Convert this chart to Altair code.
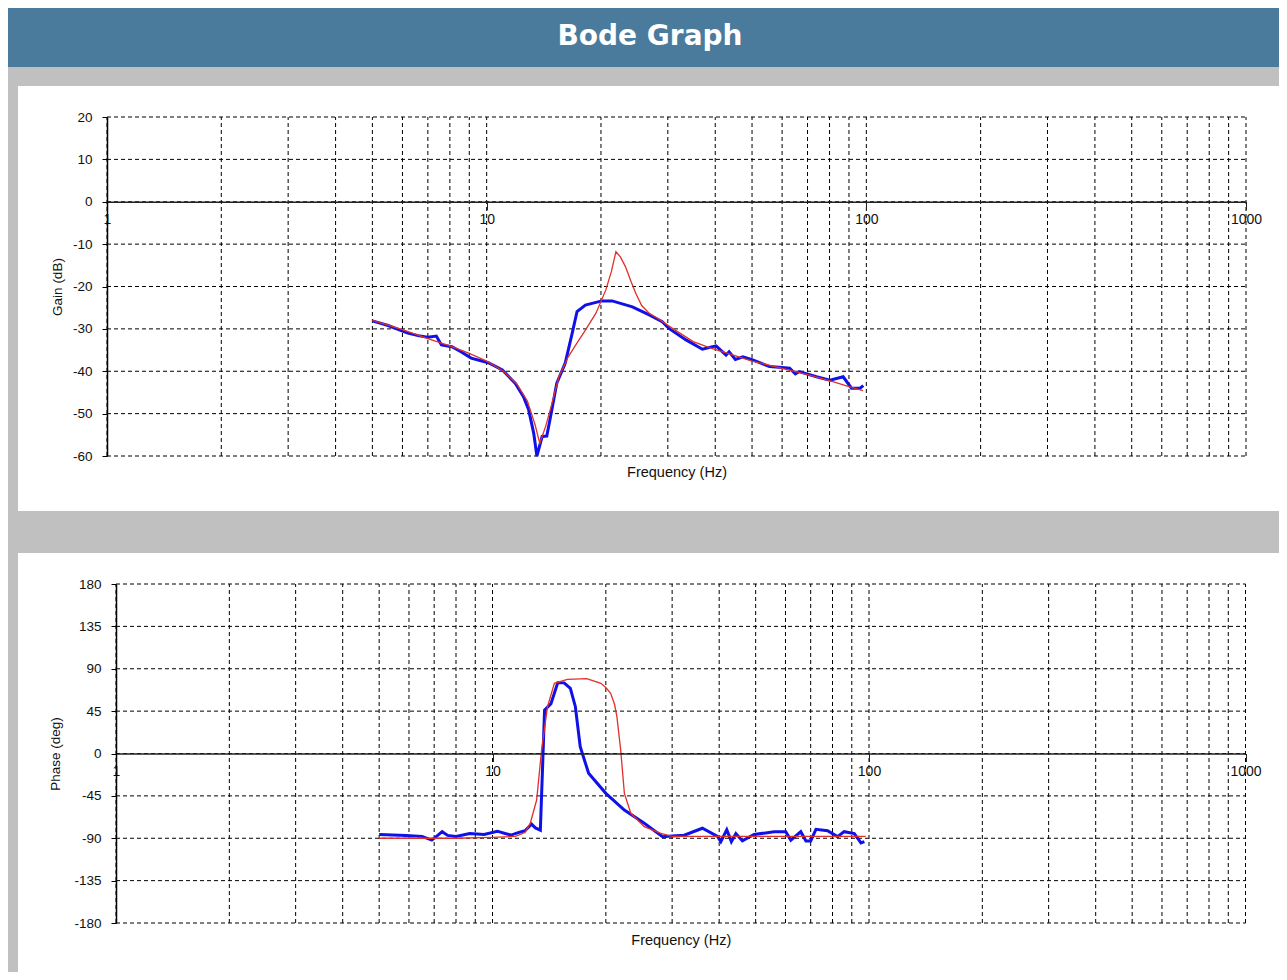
import altair as alt
import pandas as pd

# ---------------- data ----------------
gain_meas_f = [5.0, 5.5, 6.2, 6.6, 7.0, 7.37, 7.6, 8.1, 8.6, 9.1, 10.1, 11.0, 11.9, 12.5, 12.9,
               13.3, 13.56, 14.0, 14.4, 14.85, 15.3, 16.1, 16.8, 17.3, 18.2, 20.1, 21.4, 24.2,
               26.8, 29.0, 30.2, 33.5, 37.0, 40.2, 42.7, 43.5, 45.2, 47.3, 50.2, 55.6, 60.0,
               62.8, 65.0, 66.5, 73.9, 80.2, 86.9, 91.4, 96.2, 98.2]
gain_meas_db = [-28.1, -29.2, -31.0, -31.6, -32.0, -31.7, -33.8, -34.2, -35.5, -36.9, -38.0,
                -39.7, -42.9, -46.0, -49.1, -54.6, -60.0, -55.4, -55.3, -49.1, -42.8, -38.1,
                -31.0, -25.9, -24.4, -23.4, -23.4, -24.8, -26.7, -28.3, -29.9, -32.6, -34.8,
                -34.0, -36.2, -35.4, -37.2, -36.6, -37.3, -38.9, -39.1, -39.3, -40.6, -40.1,
                -41.3, -42.1, -41.3, -44.0, -44.0, -43.4]

gain_model_f = [5.0, 6.0, 7.0, 8.0, 9.0, 10.0, 11.0, 12.0, 12.8, 13.4, 13.8, 14.3, 14.7, 15.5,
                16.4, 17.3, 18.2, 19.4, 20.6, 21.3, 21.9, 22.5, 23.2, 24.0, 24.7, 25.6, 26.8,
                28.5, 31.0, 35.0, 38.6, 44.0, 50.0, 60.0, 70.0, 80.0, 90.0, 98.0]
gain_model_db = [-28.0, -30.2, -32.3, -34.0, -35.8, -37.6, -39.8, -43.0, -47.0, -52.5, -57.0,
                 -53.0, -49.1, -41.3, -36.6, -33.3, -30.3, -26.3, -20.8, -16.5, -11.8, -13.0,
                 -15.3, -18.8, -21.6, -24.5, -26.3, -27.8, -30.0, -33.0, -34.4, -36.0, -37.6,
                 -39.3, -40.8, -42.2, -43.6, -44.6]

phase_meas_f = [5.0, 5.9, 6.5, 6.9, 7.1, 7.35, 7.6, 8.0, 8.7, 9.5, 10.3, 10.8, 11.2, 11.7, 12.2,
                12.7, 13.0, 13.4, 13.75, 14.3, 14.9, 15.5, 16.1, 16.6, 17.1, 18.0, 20.0, 22.4,
                25.3, 28.3, 30.0, 32.3, 36.1, 39.6, 40.4, 41.9, 43.1, 44.3, 46.1, 49.5, 56.0,
                60.1, 62.0, 65.9, 68.0, 70.0, 72.3, 77.6, 82.5, 85.9, 91.4, 95.2, 97.2]
phase_meas_deg = [-86, -87, -88, -92, -88, -83, -87, -88, -85, -86, -82.5, -85, -86.6, -84, -82,
                  -75, -79, -81.4, 46, 53, 75.2, 75, 69.2, 49.7, 7.2, -21, -42.3, -60, -74.1,
                  -88.3, -87.5, -86.8, -79.4, -88, -93.6, -81, -93.6, -85, -92.8, -86, -83.1,
                  -83, -92, -83, -92.8, -92.8, -80.5, -82, -88.3, -83, -85, -95, -93.5]

phase_model_f = [5.0, 8.0, 10.0, 11.5, 12.2, 12.6, 13.1, 13.5, 14.0, 14.6, 15.8, 17.8, 19.4,
                 20.0, 20.6, 21.1, 21.4, 21.9, 22.4, 23.3, 25.3, 28.0, 30.0, 40.0, 60.0, 98.0]
phase_model_deg = [-90, -90, -89, -88, -84, -74, -49.4, 3.7, 49.7, 74.5, 78.8, 79.5, 74.5, 70,
                   64, 52, 39.1, 3.8, -42.3, -63.5, -77.7, -84.7, -88, -88, -88, -88]

freq_grid = [1, 2, 3, 4, 5, 6, 7, 8, 9, 10, 20, 30, 40, 50, 60, 70, 80, 90,
             100, 200, 300, 400, 500, 600, 700, 800, 900, 1000]
freq_ticks = [1, 10, 100, 1000]
gain_ticks = [20, 10, 0, -10, -20, -30, -40, -50, -60]
phase_ticks = [180, 135, 90, 45, 0, -45, -90, -135, -180]

# ---------------- layout (pixels) ----------------
W, H = 1271, 964
GX = [99, 1238]          # gain plot x range (1 .. 1000 Hz)
GY = [448, 109]          # gain plot y range (-60 .. 20 dB)
PX = [108, 1237.5]       # phase plot x range
PY = [915, 576]          # phase plot y range (-180 .. 180 deg)
G0 = 109 + 20 / 80 * (448 - 109)      # y of 0 dB
P0 = 576 + 180 / 360 * (915 - 576)    # y of 0 deg

FONT = "Liberation Sans"
BLUE = "#1010e8"
RED = "#e0302a"
DASH = [4, 3]

one = pd.DataFrame({"k": [0]})


def subplot(meas_f, meas_v, model_f, model_v, yticks, xr, yr, ydom, zero_y, x_axis_pos, ytitle,
            ytitle_pad, xtitle_y):
    xs = alt.Scale(type="log", domain=[1, 1000], range=xr, nice=False)
    ys = alt.Scale(domain=ydom, range=yr, nice=False, zero=False)
    meas = pd.DataFrame({"f": meas_f, "v": meas_v})
    model = pd.DataFrame({"f": model_f, "v": model_v})
    vgrid = pd.DataFrame({"g": freq_grid})
    hgrid = pd.DataFrame({"g": yticks})

    xaxis = alt.Axis(
        orient="bottom", offset=zero_y - H, values=freq_ticks, labelExpr="datum.value + ''",
        grid=False, zindex=1,
        domainColor="#222", domainWidth=1.5, tickColor="#222", tickSize=8, labelPadding=3,
        labelFont=FONT, labelFontSize=14, labelColor="#111", labelFlush=False,
        title="Frequency (Hz)", titleFont=FONT, titleFontSize=14.5, titleFontWeight="normal",
        titleColor="#111", titleY=xtitle_y)
    yaxis = alt.Axis(
        orient="left", offset=-x_axis_pos, values=yticks, labelExpr="datum.value + ''",
        grid=False, zindex=1,
        domainColor="black", domainWidth=1.5, tickColor="black", tickSize=5, labelPadding=10,
        labelFont=FONT, labelFontSize=13.5, labelColor="#111", labelFlush=False,
        title=ytitle, titleFont=FONT, titleFontSize=13.5, titleFontWeight="normal",
        titleColor="#111", titlePadding=ytitle_pad)

    vrules = alt.Chart(vgrid).mark_rule(color="black", strokeWidth=1, strokeDash=DASH).encode(
        x=alt.X("g:Q", scale=xs, axis=xaxis),
        y=alt.YDatum(ydom[0], type="quantitative", scale=ys, axis=yaxis),
        y2=alt.Y2Datum(ydom[1]),
    )
    hrules = alt.Chart(hgrid).mark_rule(color="black", strokeWidth=1, strokeDash=DASH).encode(
        y=alt.Y("g:Q", scale=ys, axis=yaxis),
        x=alt.XDatum(1, type="quantitative", scale=xs, axis=xaxis),
        x2=alt.X2Datum(1000),
    )
    blue = alt.Chart(meas).mark_line(color=BLUE, strokeWidth=3).encode(
        x=alt.X("f:Q", scale=xs, axis=xaxis),
        y=alt.Y("v:Q", scale=ys, axis=yaxis),
    )
    red = alt.Chart(model).mark_line(color=RED, strokeWidth=1.3).encode(
        x=alt.X("f:Q", scale=xs, axis=xaxis),
        y=alt.Y("v:Q", scale=ys, axis=yaxis),
    )
    return alt.layer(vrules, hrules, blue, red)


gain = subplot(gain_meas_f, gain_meas_db, gain_model_f, gain_model_db, gain_ticks, GX, GY,
               [-60, 20], G0, GX[0], "Gain (dB)", 8, 264)
phase = subplot(phase_meas_f, phase_meas_deg, phase_model_f, phase_model_deg, phase_ticks, PX, PY,
                [-180, 180], P0, PX[0], "Phase (deg)", 11, 180)

bar = alt.Chart(one).mark_rect(color="#4a7b9d").encode(
    x=alt.value(0), x2=alt.value(W), y=alt.value(0), y2=alt.value(59))
panel1 = alt.Chart(one).mark_rect(color="white").encode(
    x=alt.value(10), x2=alt.value(W), y=alt.value(78), y2=alt.value(503))
panel2 = alt.Chart(one).mark_rect(color="white").encode(
    x=alt.value(10), x2=alt.value(W), y=alt.value(545), y2=alt.value(H))
title = alt.Chart(one).mark_text(
    text="Bode Graph", font="DejaVu Sans", fontSize=28, fontWeight="bold", color="white",
    align="center", baseline="middle").encode(x=alt.value(642), y=alt.value(29))

chart = alt.layer(bar, panel1, panel2, title, gain, phase).resolve_scale(
    x="independent", y="independent").resolve_axis(x="independent", y="independent").properties(
    width=W, height=H, background="#c0c0c0", padding=0,
    autosize=alt.AutoSizeParams(type="none")).configure_view(stroke=None)

chart.save("out.html", embed_options={"renderer": "svg", "actions": False})
